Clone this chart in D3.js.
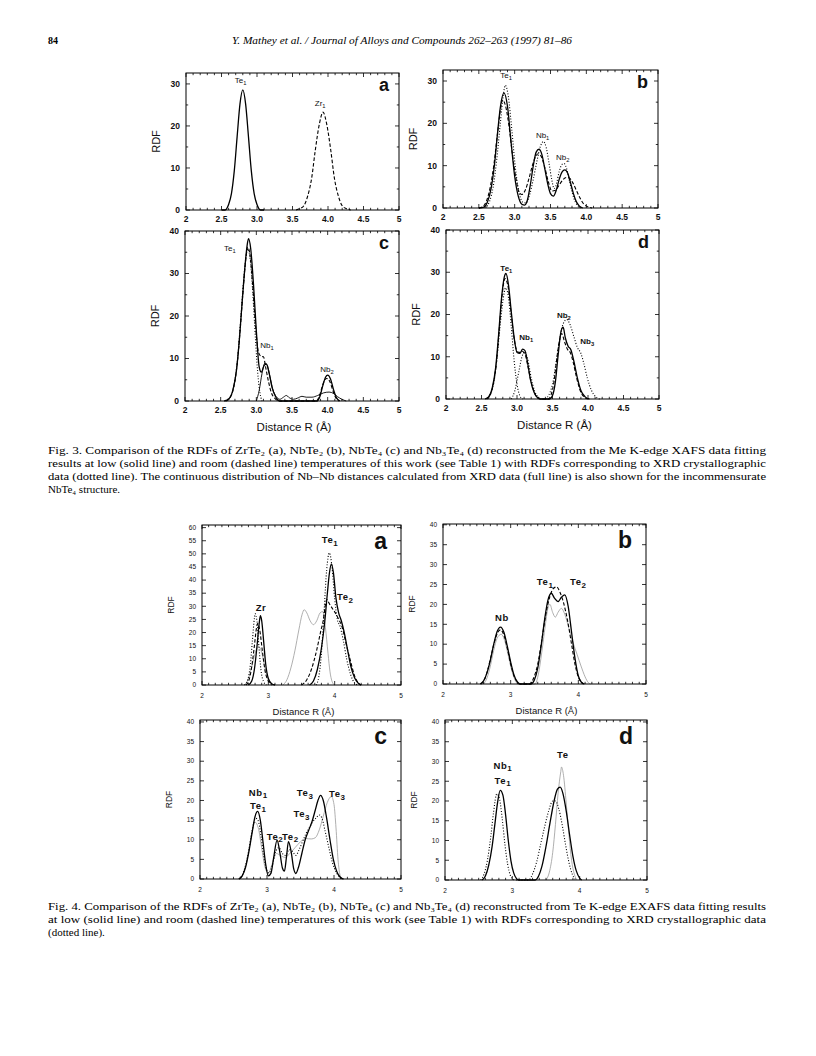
<!DOCTYPE html>
<html>
<head>
<meta charset="utf-8">
<script src="https://cdn.jsdelivr.net/npm/d3@7"></script>
<style>
  body { margin: 0; background: #fff; }
  text { font-family: "Liberation Sans", Arial, sans-serif; fill: #111; }
  .serif { font-family: "Liberation Serif", "Times New Roman", serif; fill: #000; }
</style>
</head>
<body>
<div id="page"></div>
<script>
// ---- tick values / labels ----
var fig3XTicks = [2, 2.5, 3, 3.5, 4, 4.5, 5];
var fig3XTickLabels = ["2", "2.5", "3.0", "3.5", "4.0", "4.5", "5"];
var fig3YTicksAB = [0, 10, 20, 30];
var fig3YTicksCD = [0, 10, 20, 30, 40];
var fig4XTicks = [2, 3, 4, 5];
var fig4YTicksA = [0, 5, 10, 15, 20, 25, 30, 35, 40, 45, 50, 55, 60];
var fig4YTicks = [0, 5, 10, 15, 20, 25, 30, 35, 40];

// ---- Fig. 3 curves [R (A), RDF] ----
var fig3aSolid = [[2.50,0],[2.55,0],[2.60,1.3],[2.64,3.9],[2.68,9.3],[2.72,17.4],[2.76,25.2],[2.80,28.6],[2.84,25.2],[2.88,17.4],[2.92,9.3],[2.96,3.9],[3.00,1.3],[3.05,0],[3.10,0]];
var fig3aDashed = [[3.55,0],[3.60,0.3],[3.66,1.0],[3.71,3.1],[3.77,7.6],[3.82,14.1],[3.88,20.6],[3.93,23.3],[3.98,20.6],[4.04,14.1],[4.09,7.6],[4.15,3.1],[4.20,1.0],[4.26,0.3],[4.32,0]];

var fig3bSolid = [[2.50,0],[2.57,0.2],[2.62,1.4],[2.67,4.5],[2.72,10.5],[2.76,17.5],[2.80,23.8],[2.85,27.2],[2.90,24.0],[2.95,15.5],[3.00,7.5],[3.05,2.8],[3.10,0.9],[3.14,0.7],[3.18,2.0],[3.22,5.6],[3.26,10.0],[3.30,13.2],[3.34,13.9],[3.38,12.6],[3.42,9.3],[3.46,5.8],[3.50,3.4],[3.54,2.8],[3.58,4.2],[3.62,6.7],[3.66,8.5],[3.70,9.0],[3.74,8.2],[3.78,5.9],[3.82,3.4],[3.86,1.5],[3.90,0.5],[3.95,0]];
var fig3bDotted = [[2.50,0],[2.60,0.3],[2.65,1.6],[2.70,5.0],[2.75,11.5],[2.80,20.0],[2.84,26.5],[2.87,29.0],[2.91,26.5],[2.96,18.5],[3.01,9.5],[3.06,3.8],[3.11,1.4],[3.16,1.2],[3.21,3.2],[3.26,6.8],[3.31,11.0],[3.36,14.6],[3.40,15.7],[3.44,14.3],[3.48,10.5],[3.52,6.5],[3.55,4.6],[3.58,5.5],[3.62,8.5],[3.66,10.3],[3.69,10.5],[3.73,9.0],[3.77,6.0],[3.81,3.2],[3.85,1.3],[3.90,0.3],[3.95,0]];
var fig3bDashed = [[2.50,0],[2.56,0.4],[2.61,1.8],[2.66,5.0],[2.71,10.2],[2.76,17.5],[2.80,23.0],[2.83,25.5],[2.87,24.3],[2.92,19.5],[2.97,12.5],[3.02,6.8],[3.06,3.8],[3.10,3.2],[3.15,4.3],[3.20,7.0],[3.25,10.2],[3.30,12.4],[3.33,12.8],[3.37,12.2],[3.42,9.6],[3.47,6.2],[3.52,4.0],[3.57,4.2],[3.62,5.4],[3.67,6.6],[3.72,7.2],[3.76,7.1],[3.81,6.0],[3.86,4.2],[3.91,2.4],[3.96,1.0],[4.02,0.3],[4.08,0]];

var fig3cSolid = [[2.55,0],[2.62,0.6],[2.67,2.5],[2.72,7.0],[2.76,14.0],[2.80,23.0],[2.84,31.5],[2.87,36.5],[2.89,38.2],[2.92,36.0],[2.96,27.5],[3.00,16.5],[3.04,8.0],[3.07,6.8],[3.11,8.4],[3.14,8.7],[3.18,6.5],[3.22,3.2],[3.27,1.0],[3.33,0],[3.85,0],[3.89,1.0],[3.93,3.5],[3.97,5.6],[4.00,6.1],[4.04,5.2],[4.08,2.8],[4.12,0.9],[4.17,0]];
var fig3cDashed = [[2.57,0],[2.63,0.8],[2.68,3.0],[2.73,8.5],[2.77,16.0],[2.81,25.0],[2.85,33.0],[2.88,36.2],[2.91,34.5],[2.95,27.0],[2.99,17.5],[3.03,11.5],[3.07,10.5],[3.10,10.4],[3.13,8.0],[3.17,4.6],[3.21,2.0],[3.26,0.6],[3.32,0],[3.84,0],[3.88,1.0],[3.92,3.2],[3.96,5.0],[3.99,5.3],[4.03,4.6],[4.07,2.6],[4.11,0.9],[4.16,0]];
var fig3cDotted = [[2.58,0],[2.64,1.0],[2.69,4.0],[2.74,10.5],[2.78,19.0],[2.82,28.0],[2.86,34.5],[2.88,35.8],[2.91,34.0],[2.95,25.5],[2.99,14.0],[3.02,6.5],[3.05,2.0],[3.08,0]];
var fig3cFull = [[3.00,0],[3.04,2.5],[3.08,6.5],[3.12,8.9],[3.15,8.6],[3.19,5.8],[3.23,2.8],[3.28,1.0],[3.33,0.4],[3.38,0.9],[3.42,1.3],[3.46,0.8],[3.52,0.4],[3.58,0.7],[3.64,1.1],[3.70,0.9],[3.78,0.9],[3.86,1.3],[3.94,1.9],[4.02,2.1],[4.08,1.8],[4.14,1.0],[4.20,0.4],[4.26,0]];

var fig3dSolid = [[2.55,0],[2.60,0.5],[2.65,2.5],[2.70,7.5],[2.74,15.0],[2.78,23.5],[2.82,28.8],[2.845,29.7],[2.88,27.0],[2.92,20.5],[2.96,14.5],[3.00,11.0],[3.04,10.8],[3.08,11.8],[3.11,11.5],[3.15,8.5],[3.19,4.5],[3.24,1.6],[3.29,0.3],[3.33,0],[3.46,0],[3.50,0.8],[3.54,4.0],[3.58,10.5],[3.62,16.0],[3.65,17.0],[3.68,14.5],[3.72,12.5],[3.76,11.6],[3.80,9.0],[3.85,5.0],[3.90,2.0],[3.96,0.5],[4.02,0]];
var fig3dDashed = [[2.56,0],[2.61,0.7],[2.66,3.0],[2.71,8.5],[2.75,16.5],[2.79,24.5],[2.83,28.5],[2.87,27.0],[2.91,21.5],[2.95,15.5],[2.99,11.8],[3.03,11.0],[3.07,11.3],[3.11,10.8],[3.15,8.0],[3.20,4.0],[3.25,1.3],[3.30,0.2],[3.34,0],[3.44,0],[3.48,1.0],[3.52,4.0],[3.56,9.5],[3.60,14.0],[3.63,15.5],[3.67,13.5],[3.71,11.8],[3.75,11.0],[3.79,8.8],[3.84,5.0],[3.89,2.0],[3.95,0.4],[4.00,0]];
var fig3dDottedTe = [[2.58,0],[2.63,1.2],[2.68,4.5],[2.72,10.0],[2.76,17.0],[2.80,23.0],[2.84,26.3],[2.88,24.0],[2.92,17.0],[2.96,9.0],[3.00,3.5],[3.04,0.8],[3.08,0]];
var fig3dDottedNb1 = [[2.92,0],[2.97,2.0],[3.02,6.0],[3.07,10.0],[3.11,11.2],[3.15,9.5],[3.20,5.0],[3.25,1.8],[3.30,0.4],[3.34,0]];
var fig3dDottedNb23 = [[3.40,0],[3.45,1.0],[3.50,3.5],[3.55,8.5],[3.60,14.0],[3.65,17.8],[3.70,18.8],[3.75,17.5],[3.80,14.8],[3.85,12.2],[3.90,10.8],[3.94,8.5],[3.99,5.0],[4.05,2.0],[4.11,0.5],[4.17,0]];

// ---- Fig. 4 curves ----
var fig4aSolidZr = [[2.70,0],[2.75,1.5],[2.79,6.0],[2.83,15.0],[2.86,23.0],[2.88,26.4],[2.90,24.5],[2.93,16.5],[2.96,8.0],[3.00,2.5],[3.05,0.5],[3.10,0]];
var fig4aSolidTe = [[3.62,0],[3.68,1.5],[3.74,6.0],[3.80,14.0],[3.85,24.0],[3.89,35.0],[3.92,42.5],[3.95,46.2],[3.98,43.0],[4.02,33.0],[4.06,27.5],[4.10,24.5],[4.14,20.5],[4.19,14.0],[4.24,7.5],[4.30,2.8],[4.36,0.6],[4.40,0]];
var fig4aDashedZr = [[2.66,0],[2.71,2.0],[2.75,7.0],[2.79,15.0],[2.82,21.5],[2.84,23.5],[2.87,21.0],[2.91,13.0],[2.95,5.5],[3.00,1.5],[3.05,0]];
var fig4aDashedTe = [[3.50,0],[3.58,2.0],[3.65,6.0],[3.73,13.4],[3.79,20.5],[3.83,25.0],[3.86,30.5],[3.88,32.6],[3.92,31.0],[3.97,29.0],[4.01,27.5],[4.06,25.0],[4.11,22.3],[4.17,16.0],[4.24,9.0],[4.30,3.5],[4.35,1.0],[4.40,0]];
var fig4aDottedZr = [[2.64,0],[2.69,2.0],[2.73,8.0],[2.76,17.0],[2.79,25.5],[2.80,27.2],[2.83,24.0],[2.86,14.0],[2.89,5.5],[2.93,1.2],[2.97,0]];
var fig4aDottedTe = [[3.72,0],[3.76,3.0],[3.80,12.0],[3.84,28.0],[3.88,44.0],[3.92,50.4],[3.96,45.0],[4.00,33.0],[4.04,25.0],[4.08,22.5],[4.13,17.0],[4.18,10.0],[4.24,4.0],[4.30,0.8],[4.35,0]];
var fig4aGrayZr = [[2.64,0],[2.70,2.5],[2.75,7.0],[2.80,12.0],[2.85,14.7],[2.90,12.5],[2.95,6.5],[3.00,2.0],[3.06,0]];
var fig4aGrayTe = [[3.22,0],[3.28,2.0],[3.34,6.5],[3.40,13.0],[3.46,21.0],[3.51,27.0],[3.54,28.7],[3.58,27.5],[3.63,24.5],[3.68,23.0],[3.73,24.5],[3.78,27.5],[3.82,28.0],[3.86,22.0],[3.90,12.0],[3.93,5.0],[3.97,0.8],[4.00,0]];

var fig4bSolid = [[2.55,0],[2.60,0.8],[2.65,2.8],[2.70,6.0],[2.75,10.0],[2.80,13.2],[2.85,14.3],[2.90,13.0],[2.95,9.5],[3.00,5.5],[3.05,2.2],[3.10,0.5],[3.14,0],[3.30,0],[3.35,1.0],[3.40,4.0],[3.45,9.5],[3.50,16.0],[3.55,21.0],[3.60,22.8],[3.65,21.5],[3.70,20.7],[3.75,21.8],[3.80,22.4],[3.85,19.5],[3.90,13.0],[3.95,6.5],[4.00,2.0],[4.05,0.3],[4.08,0]];
var fig4bDashed = [[2.56,0],[2.61,1.0],[2.66,3.5],[2.71,7.0],[2.76,10.5],[2.81,13.0],[2.85,13.6],[2.90,12.3],[2.95,9.0],[3.00,5.0],[3.05,2.0],[3.10,0.5],[3.14,0],[3.28,0],[3.34,1.5],[3.40,5.0],[3.46,11.0],[3.52,17.5],[3.58,22.0],[3.63,24.0],[3.68,24.4],[3.73,23.0],[3.78,20.5],[3.84,16.0],[3.90,10.0],[3.95,5.0],[4.00,1.8],[4.05,0.4],[4.09,0]];
var fig4bGray = [[2.60,0],[2.65,1.5],[2.70,4.5],[2.75,8.5],[2.80,11.5],[2.86,12.5],[2.91,11.0],[2.96,7.5],[3.01,3.8],[3.06,1.2],[3.11,0],[3.36,0],[3.41,2.5],[3.46,8.0],[3.51,14.5],[3.55,19.0],[3.58,20.0],[3.62,18.0],[3.66,16.8],[3.70,18.0],[3.75,19.0],[3.80,17.5],[3.86,14.0],[3.92,10.5],[3.98,7.5],[4.04,4.5],[4.10,1.8],[4.15,0.3],[4.18,0]];

var fig4cSolid = [[2.58,0],[2.63,0.8],[2.68,3.0],[2.73,7.0],[2.78,12.0],[2.82,15.8],[2.86,17.2],[2.90,15.0],[2.94,9.5],[2.98,3.8],[3.02,0.8],[3.06,1.5],[3.10,5.5],[3.15,9.9],[3.19,7.0],[3.23,2.8],[3.26,2.0],[3.29,5.5],[3.32,9.5],[3.36,7.0],[3.40,2.5],[3.43,1.4],[3.47,3.0],[3.52,6.5],[3.57,10.0],[3.62,12.3],[3.67,14.5],[3.72,17.5],[3.76,20.0],[3.80,21.3],[3.84,20.0],[3.89,15.5],[3.94,10.0],[3.99,5.0],[4.04,2.0],[4.09,0.5],[4.14,0]];
var fig4cDotted = [[2.58,0],[2.63,1.0],[2.68,3.5],[2.73,7.5],[2.78,12.5],[2.83,15.5],[2.87,14.8],[2.91,11.0],[2.95,6.0],[2.99,2.5],[3.03,1.5],[3.08,3.5],[3.13,7.0],[3.18,8.0],[3.23,6.5],[3.28,6.0],[3.33,7.5],[3.38,7.0],[3.43,6.0],[3.48,7.5],[3.53,9.5],[3.58,11.5],[3.63,13.0],[3.68,14.5],[3.73,15.5],[3.78,16.3],[3.82,15.5],[3.87,12.0],[3.93,7.5],[3.98,4.0],[4.04,1.5],[4.10,0.3],[4.14,0]];
var fig4cGray = [[2.60,0],[2.66,2.0],[2.72,6.5],[2.77,11.5],[2.82,14.5],[2.87,13.0],[2.92,8.0],[2.97,3.0],[3.02,1.5],[3.08,4.0],[3.14,6.5],[3.20,6.0],[3.27,5.5],[3.34,6.5],[3.42,8.0],[3.50,9.5],[3.58,10.3],[3.66,10.2],[3.72,10.5],[3.78,12.5],[3.84,16.0],[3.90,19.5],[3.96,21.0],[4.00,19.0],[4.03,13.0],[4.06,5.0],[4.09,1.0],[4.12,0]];

var fig4dSolid = [[2.55,0],[2.60,1.0],[2.65,3.8],[2.70,8.5],[2.74,14.0],[2.78,19.5],[2.82,22.7],[2.86,21.5],[2.90,16.5],[2.94,10.0],[2.98,4.8],[3.02,1.8],[3.06,0.4],[3.09,0],[3.34,0],[3.39,1.0],[3.44,3.5],[3.50,8.5],[3.56,14.5],[3.62,20.0],[3.67,23.0],[3.71,23.5],[3.75,22.0],[3.80,17.5],[3.85,11.5],[3.90,6.0],[3.95,2.3],[4.00,0.5],[4.03,0]];
var fig4dDotted = [[2.53,0],[2.58,1.5],[2.63,5.0],[2.68,11.0],[2.72,17.0],[2.77,21.8],[2.81,20.5],[2.85,15.5],[2.89,9.0],[2.93,4.0],[2.97,1.2],[3.01,0.2],[3.04,0],[3.24,0],[3.30,1.5],[3.36,4.5],[3.42,9.0],[3.48,13.5],[3.54,17.5],[3.60,20.0],[3.64,20.0],[3.69,18.0],[3.74,14.0],[3.79,9.0],[3.84,4.5],[3.89,1.5],[3.93,0.3],[3.96,0]];
var fig4dGray = [[3.50,0],[3.55,2.0],[3.60,7.0],[3.64,14.0],[3.68,22.0],[3.72,27.5],[3.73,28.6],[3.76,26.5],[3.80,19.5],[3.84,11.5],[3.88,5.0],[3.92,1.5],[3.96,0]];

// ---- peak annotations: [name, subscript, R, RDF] ----
var fig3aNames = [["Te","1",2.77,31],["Zr","1",3.89,25.5]];
var fig3bNames = [["Te","1",2.88,31.4],["Nb","1",3.39,17.3],["Nb","2",3.67,12]];
var fig3cNames = [["Te","1",2.63,36],["Nb","1",3.15,13.2],["Nb","2",3.99,7.5]];
var fig3dNames = [["Te","1",2.85,31],["Nb","1",3.13,14.7],["Nb","2",3.66,19.9],["Nb","3",3.99,13.7]];
var fig4aNames = [["Zr","",2.89,29.4],["Te","1",3.93,55.3],["Te","2",4.16,33.6]];
var fig4bNames = [["Nb","",2.87,16.6],["Te","1",3.51,25.6],["Te","2",4.0,25.6]];
var fig4cNames = [["Nb","1",2.87,22.0],["Te","1",2.87,18.6],["Te","2",3.12,10.9],["Te","2",3.35,10.9],["Te","3",3.57,21.9],["Te","3",4.05,21.7],["Te","3",3.52,16.6]];
var fig4dNames = [["Nb","1",2.86,29.0],["Te","1",2.86,25.2],["Te","",3.75,31.8]];

var fig3Caption = [
  "Fig. 3. Comparison of the RDFs of ZrTe\u2082 (a), NbTe\u2082 (b), NbTe\u2084 (c) and Nb\u2083Te\u2084 (d) reconstructed from the Me K-edge XAFS data fitting",
  "results at low (solid line) and room (dashed line) temperatures of this work (see Table 1) with RDFs corresponding to XRD crystallographic",
  "data (dotted line). The continuous distribution of Nb\u2013Nb distances calculated from XRD data (full line) is also shown for the incommensurate",
  "NbTe\u2084 structure."
];
var fig4Caption = [
  "Fig. 4. Comparison of the RDFs of ZrTe\u2082 (a), NbTe\u2082 (b), NbTe\u2084 (c) and Nb\u2083Te\u2084 (d) reconstructed from Te K-edge EXAFS data fitting results",
  "at low (solid line) and room (dashed line) temperatures of this work (see Table 1) with RDFs corresponding to XRD crystallographic data",
  "(dotted line)."
];

// ---- styles ----
var lineStyle = {
  solid:  { stroke: "#000", w: 1.3, dash: null },
  dashed: { stroke: "#000", w: 1.1, dash: "3.5,2" },
  dotted: { stroke: "#000", w: 1.1, dash: "1,1.8" },
  full:   { stroke: "#000", w: 0.9, dash: null },
  gray:   { stroke: "#9a9a9a", w: 0.8, dash: null }
};

var svg = d3.select("#page").append("svg")
    .attr("width", 816).attr("height", 1056);
svg.append("rect").attr("width", 816).attr("height", 1056).attr("fill", "#fff");

function drawPanel(p) {
    var g = svg.append("g");
    var x = d3.scaleLinear().domain([2, 5]).range([p.left, p.right]);
    var y = d3.scaleLinear().domain([0, p.ymax]).range([p.bottom, p.top]);
    var big = p.fig == 3;

    // curves
    var line = d3.line()
        .x(function(d) { return x(d[0]); })
        .y(function(d) { return y(d[1]); })
        .curve(d3.curveMonotoneX);
    p.series.forEach(function(s) {
        var st = lineStyle[s[1]];
        g.append("path")
            .attr("d", line(s[0]))
            .attr("fill", "none")
            .attr("stroke", st.stroke)
            .attr("stroke-width", st.w)
            .attr("stroke-dasharray", st.dash);
    });

    // box
    g.append("rect")
        .attr("x", p.left).attr("y", p.top)
        .attr("width", p.right - p.left).attr("height", p.bottom - p.top)
        .attr("fill", "none").attr("stroke", "#000").attr("stroke-width", 1);

    // x minor + major ticks, top and bottom, pointing in
    var minor = d3.range(20, 51).map(function(v) { return v / 10; });
    minor.forEach(function(v) {
        var isMajor = p.xTicks.some(function(t) { return Math.abs(t - v) < 1e-6; });
        var len = isMajor ? 4 : 2.2;
        g.append("line").attr("x1", x(v)).attr("x2", x(v))
            .attr("y1", p.bottom).attr("y2", p.bottom - len)
            .attr("stroke", "#000").attr("stroke-width", 0.8);
        g.append("line").attr("x1", x(v)).attr("x2", x(v))
            .attr("y1", p.top).attr("y2", p.top + len)
            .attr("stroke", "#000").attr("stroke-width", 0.8);
    });

    // y ticks
    var yt = big ? d3.range(0, p.ymax + 0.01, 5) : p.yTicks;
    yt.forEach(function(v) {
        var isMajor = p.yTicks.indexOf(v) >= 0;
        var len = isMajor ? 4 : 2.2;
        g.append("line").attr("x1", p.left).attr("x2", p.left + len)
            .attr("y1", y(v)).attr("y2", y(v))
            .attr("stroke", "#000").attr("stroke-width", 0.8);
        g.append("line").attr("x1", p.right).attr("x2", p.right - len)
            .attr("y1", y(v)).attr("y2", y(v))
            .attr("stroke", "#000").attr("stroke-width", 0.8);
    });

    // tick labels
    var fs = big ? 8.5 : 6.5;
    p.yTicks.forEach(function(v) {
        g.append("text").attr("x", p.left - 6).attr("y", y(v))
            .attr("dy", "0.35em").attr("text-anchor", "end")
            .attr("font-size", fs).attr("font-weight", big ? "bold" : "normal")
            .text(v);
    });
    p.xTicks.forEach(function(v, i) {
        g.append("text").attr("x", x(v)).attr("y", p.bottom + (big ? 9 : 11))
            .attr("dy", "0.35em").attr("text-anchor", "middle")
            .attr("font-size", fs).attr("font-weight", big ? "bold" : "normal")
            .text(p.xLabels[i]);
    });

    // axis titles
    g.append("text")
        .attr("transform", "translate(" + (p.left - (big ? 30 : 31)) + "," + ((p.top + p.bottom) / 2) + ") rotate(-90)")
        .attr("text-anchor", "middle").attr("dy", "0.35em")
        .attr("font-size", big ? 11 : 8.5)
        .text("RDF");
    if (p.xTitle) {
        g.append("text").attr("x", (p.left + p.right) / 2 + 2).attr("y", p.bottom + (big ? 26 : 27))
            .attr("dy", "0.35em").attr("text-anchor", "middle")
            .attr("font-size", big ? 11.5 : 9.5)
            .text("Distance R (\u00c5)");
    }

    // panel letter
    g.append("text").attr("x", p.right - (big ? 10 : 14)).attr("y", p.top + (big ? 12 : 16))
        .attr("dy", "0.35em").attr("text-anchor", "end")
        .attr("font-size", big ? 18 : 23).attr("font-weight", "bold")
        .text(p.letter);

    // peak names
    p.names.forEach(function(n) {
        var t = g.append("text").attr("x", x(n[2])).attr("y", y(n[3]))
            .attr("dy", "0.35em").attr("text-anchor", "middle")
            .attr("font-size", big ? 8 : 9.5)
            .attr("font-weight", (!big || p.boldNames) ? "bold" : "normal")
            .attr("letter-spacing", big ? 0 : 0.6);
        t.append("tspan").text(n[0]);
        if (n[1]) {
            t.append("tspan").attr("dy", big ? 2 : 2.5)
                .attr("font-size", big ? 5.8 : 8).text(n[1]);
        }
    });
}

// Fig. 3 (Me K-edge)
drawPanel({fig: 3, left: 186, right: 399, top: 73, bottom: 210, ymax: 32.6, letter: "a",
    xTicks: fig3XTicks, xLabels: fig3XTickLabels, yTicks: fig3YTicksAB, names: fig3aNames,
    series: [[fig3aSolid, "solid"], [fig3aDashed, "dashed"]]});
drawPanel({fig: 3, left: 443, right: 658, top: 70, bottom: 208, ymax: 32.6, letter: "b",
    xTicks: fig3XTicks, xLabels: fig3XTickLabels, yTicks: fig3YTicksAB, names: fig3bNames,
    series: [[fig3bDotted, "dotted"], [fig3bDashed, "dashed"], [fig3bSolid, "solid"]]});
drawPanel({fig: 3, left: 185, right: 399, top: 231, bottom: 401, ymax: 40, letter: "c", xTitle: true,
    xTicks: fig3XTicks, xLabels: fig3XTickLabels, yTicks: fig3YTicksCD, names: fig3cNames,
    series: [[fig3cDotted, "dotted"], [fig3cDashed, "dashed"], [fig3cFull, "full"], [fig3cSolid, "solid"]]});
drawPanel({fig: 3, left: 446, right: 659, top: 230, bottom: 399, ymax: 40, letter: "d", xTitle: true, boldNames: true,
    xTicks: fig3XTicks, xLabels: fig3XTickLabels, yTicks: fig3YTicksCD, names: fig3dNames,
    series: [[fig3dDottedTe, "dotted"], [fig3dDottedNb1, "dotted"], [fig3dDottedNb23, "dotted"],
             [fig3dDashed, "dashed"], [fig3dSolid, "solid"]]});

// Fig. 4 (Te K-edge)
drawPanel({fig: 4, left: 202, right: 401, top: 525, bottom: 685, ymax: 61, letter: "a", xTitle: true,
    xTicks: fig4XTicks, xLabels: fig4XTicks, yTicks: fig4YTicksA, names: fig4aNames,
    series: [[fig4aGrayZr, "gray"], [fig4aGrayTe, "gray"], [fig4aDottedZr, "dotted"], [fig4aDottedTe, "dotted"],
             [fig4aDashedZr, "dashed"], [fig4aDashedTe, "dashed"], [fig4aSolidZr, "solid"], [fig4aSolidTe, "solid"]]});
drawPanel({fig: 4, left: 443, right: 646, top: 524, bottom: 684, ymax: 40.2, letter: "b", xTitle: true,
    xTicks: fig4XTicks, xLabels: fig4XTicks, yTicks: fig4YTicks, names: fig4bNames,
    series: [[fig4bGray, "gray"], [fig4bDashed, "dashed"], [fig4bSolid, "solid"]]});
drawPanel({fig: 4, left: 200, right: 401, top: 720, bottom: 879, ymax: 40.5, letter: "c",
    xTicks: fig4XTicks, xLabels: fig4XTicks, yTicks: fig4YTicks, names: fig4cNames,
    series: [[fig4cGray, "gray"], [fig4cDotted, "dotted"], [fig4cSolid, "solid"]]});
drawPanel({fig: 4, left: 445, right: 647, top: 720, bottom: 880, ymax: 40.5, letter: "d",
    xTicks: fig4XTicks, xLabels: fig4XTicks, yTicks: fig4YTicks, names: fig4dNames,
    series: [[fig4dGray, "gray"], [fig4dDotted, "dotted"], [fig4dSolid, "solid"]]});

// running head
svg.append("text").attr("class", "serif").attr("x", 48).attr("y", 44)
    .attr("font-size", 10).attr("font-weight", "bold").text("84");
svg.append("text").attr("class", "serif").attr("x", 232).attr("y", 44)
    .attr("font-size", 10.5).attr("font-style", "italic")
    .attr("textLength", 340).attr("lengthAdjust", "spacingAndGlyphs")
    .text("Y. Mathey et al. / Journal of Alloys and Compounds 262\u2013263 (1997) 81\u201386");

// captions
function caption(lines, y0) {
    lines.forEach(function(s, i) {
        var t = svg.append("text").attr("class", "serif")
            .attr("x", 48).attr("y", y0 + i * 13)
            .attr("font-size", 11)
            .text(s);
        if (i < lines.length - 1) {
            t.attr("textLength", 718).attr("lengthAdjust", "spacingAndGlyphs");
        }
    });
}
caption(fig3Caption, 454);
caption(fig4Caption, 910);
</script>
</body>
</html>
